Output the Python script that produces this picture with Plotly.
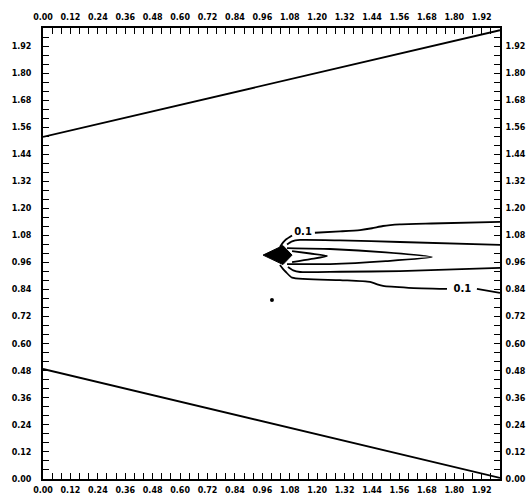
import plotly.graph_objects as go

tick_values = [0.00, 0.12, 0.24, 0.36, 0.48, 0.60, 0.72, 0.84, 0.96, 1.08,
               1.20, 1.32, 1.44, 1.56, 1.68, 1.80, 1.92]
tick_labels = ["0.00", "0.12", "0.24", "0.36", "0.48", "0.60", "0.72", "0.84", "0.96", "1.08",
               "1.20", "1.32", "1.44", "1.56", "1.68", "1.80", "1.92"]

# boundary lines
upper_x = [0.0, 2.0]
upper_y = [1.517, 1.99]
lower_x = [0.0, 2.0]
lower_y = [0.488, 0.005]

# contour 0.1 (outer, open to the right)
c1_up_x = [1.037, 1.050, 1.063, 1.090]
c1_up_y = [1.029, 1.048, 1.062, 1.080]
c1_up2_x = [1.190, 1.300, 1.387, 1.440, 1.488, 1.562, 1.700, 2.0]
c1_up2_y = [1.092, 1.098, 1.104, 1.112, 1.122, 1.129, 1.133, 1.140]
c1_lo_x = [1.037, 1.050, 1.063, 1.090, 1.300, 1.431, 1.460, 1.488, 1.600, 1.768]
c1_lo_y = [0.949, 0.932, 0.918, 0.893, 0.882, 0.874, 0.864, 0.856, 0.848, 0.843]
c1_lo2_x = [1.899, 2.0]
c1_lo2_y = [0.843, 0.825]

# second contour (open)
c2_up_x = [1.068, 1.090, 1.125, 1.300, 1.562, 2.0]
c2_up_y = [1.040, 1.054, 1.060, 1.058, 1.051, 1.038]
c2_lo_x = [1.072, 1.095, 1.125, 1.300, 1.562, 2.0]
c2_lo_y = [0.940, 0.925, 0.918, 0.919, 0.922, 0.936]

# third contour (closed)
c3_x = [1.068, 1.256, 1.500, 1.702, 1.500, 1.256, 1.068]
c3_y = [1.024, 1.020, 1.005, 0.984, 0.966, 0.953, 0.953]

# fourth contour (closed, small)
c4_x = [1.090, 1.170, 1.243, 1.170, 1.090]
c4_y = [1.011, 1.000, 0.989, 0.975, 0.962]

# solid source region
src_x = [0.963, 1.050, 1.090, 1.050, 0.963]
src_y = [0.993, 1.035, 0.993, 0.951, 0.993]

dot_x = [1.002]
dot_y = [0.794]

label_x = [1.138, 1.835]
label_y = [1.092, 0.840]
label_text = ["0.1", "0.1"]

fig = go.Figure()
line = dict(color="black", width=1.8, shape="spline", smoothing=0.6)

def add_line(x, y, **kw):
    fig.add_trace(go.Scatter(x=x, y=y, mode="lines", line=line, showlegend=False,
                             hoverinfo="skip", **kw))

fig.add_trace(go.Scatter(x=upper_x, y=upper_y, mode="lines", line=dict(color="black", width=1.8),
                         showlegend=False, hoverinfo="skip"))
fig.add_trace(go.Scatter(x=lower_x, y=lower_y, mode="lines", line=dict(color="black", width=1.8),
                         showlegend=False, hoverinfo="skip"))
add_line(c1_up_x, c1_up_y)
add_line(c1_up2_x, c1_up2_y)
add_line(c1_lo_x, c1_lo_y)
add_line(c1_lo2_x, c1_lo2_y)
add_line(c2_up_x, c2_up_y)
add_line(c2_lo_x, c2_lo_y)
add_line(c3_x, c3_y)
add_line(c4_x, c4_y)
fig.add_trace(go.Scatter(x=src_x, y=src_y, mode="lines", fill="toself", fillcolor="black",
                         line=dict(color="black", width=1), showlegend=False, hoverinfo="skip"))
fig.add_trace(go.Scatter(x=dot_x, y=dot_y, mode="markers", marker=dict(color="black", size=4),
                         showlegend=False, hoverinfo="skip"))
fig.add_trace(go.Scatter(x=label_x, y=label_y, mode="text", text=label_text,
                         textfont=dict(family="DejaVu Sans", size=10, color="black", weight="bold"),
                         showlegend=False, hoverinfo="skip"))
# dummy trace to activate secondary axes
fig.add_trace(go.Scatter(x=[0], y=[0], xaxis="x2", yaxis="y2", mode="markers",
                         marker=dict(opacity=0), showlegend=False, hoverinfo="skip"))

tf = dict(family="DejaVu Sans", size=8, color="black", weight="bold")
common = dict(range=[0, 2.0], tickvals=tick_values, ticktext=tick_labels, ticks="inside",
              ticklen=6, tickwidth=1.2, tickcolor="black", showgrid=False, zeroline=False,
              showline=True, linecolor="black", linewidth=2, tickfont=tf, automargin=False,
              minor=dict(dtick=0.04, ticks="inside", ticklen=6, tickwidth=1.2, tickcolor="black",
                         showgrid=False))

fig.update_layout(
    width=527, height=496,
    margin=dict(l=43, r=27, t=28, b=17),
    paper_bgcolor="white", plot_bgcolor="white",
    xaxis=dict(side="bottom", ticklabelstandoff=2, **common),
    yaxis=dict(side="left", ticklabelstandoff=8, **common),
    xaxis2=dict(side="top", overlaying="x", anchor="y", ticklabelstandoff=3, **common),
    yaxis2=dict(side="right", overlaying="y", anchor="x", ticklabelstandoff=2, **common),
)

fig.write_html("out.html", config={"displayModeBar": False},
               post_script="document.body.style.margin='0';document.body.style.overflow='hidden';")
